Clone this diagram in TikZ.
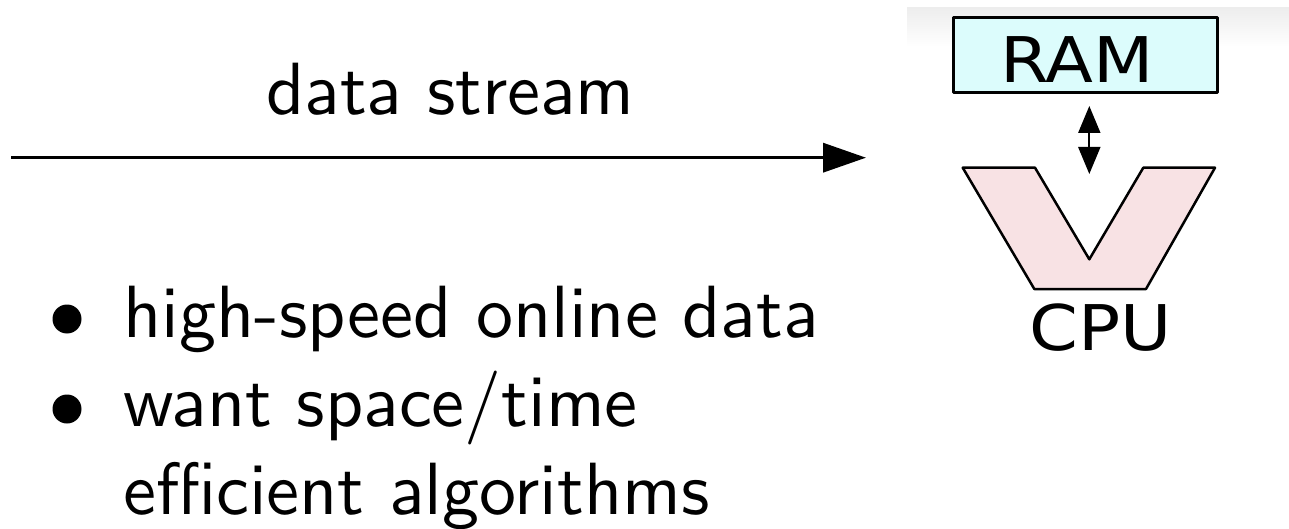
\documentclass[tikz,border=0pt]{standalone}
\usepackage{fontspec}
\usetikzlibrary{arrows.meta}
\newfontfamily\chipfont{DejaVu Sans}
\definecolor{ramfill}{RGB}{220,252,252}
\definecolor{cpufill}{RGB}{248,226,228}
% slide text: 10pt design size of Latin Modern Sans, enlarged
\newcommand{\slidetext}[1]{\scalebox{7.4}{\sffamily\fontsize{10}{12}\selectfont #1}}
\tikzset{
  bodytext/.style={anchor=base west, inner sep=0pt},
  chiptext/.style={anchor=base, inner sep=0pt, font=\chipfont\fontsize{63}{63}\selectfont},
  dot/.style={circle, fill=black, inner sep=0pt, minimum size=29pt},
  outline/.style={draw=black, line width=2.5pt, line join=round},
}
\begin{document}
\begin{tikzpicture}[x=1pt, y=-1pt]
\useasboundingbox (0,0) rectangle (1289,529);

% faint band behind the memory/processor sketch
\shade[top color=black!7, bottom color=white] (907,8) rectangle (1289,47);

% stream arrow and its caption
\node[bodytext] (caption) at (266,115) {\slidetext{data stream}};
\coordinate (streamstart) at (11,157.7);
\coordinate (streamend) at (866,157.7);
\draw[line width=3.5pt, -{Triangle[length=43pt, width=29pt]}] (streamstart) -- (streamend);

% bullet list
\node[dot] (b1) at (67,319) {};
\node[bodytext] (item1) at (123,337) {\slidetext{high-speed online data}};
\node[dot] (b2) at (67,409) {};
\node[bodytext] (item2) at (123,426) {\slidetext{want space/time}};
\node[bodytext] (item3) at (123,514) {\slidetext{efficient algorithms}};

% RAM box
\node[outline, fill=ramfill, minimum width=264pt, minimum height=75pt, inner sep=0pt] (ram) at (1085.3,54.8) {};
\node[chiptext] (ramlabel) at (1077,82.3) {\scalebox{1.11}[1]{RAM}};

% memory bus
\coordinate (bustop) at (1089.3,106);
\coordinate (busbottom) at (1089.3,174);
\draw[line width=2pt, {Triangle[length=27pt, width=22pt]}-{Triangle[length=27pt, width=22pt]}] (bustop) -- (busbottom);

% CPU funnel
\draw[outline, fill=cpufill]
  (962.7,167.7) -- (1035,167.7) -- (1089.3,259.3) -- (1143.3,167.7)
  -- (1215,167.7) -- (1146,289) -- (1034.3,289) -- cycle;
\node[chiptext] (cpulabel) at (1101,350) {\scalebox{1.11}[1]{CPU}};
\end{tikzpicture}
\end{document}
